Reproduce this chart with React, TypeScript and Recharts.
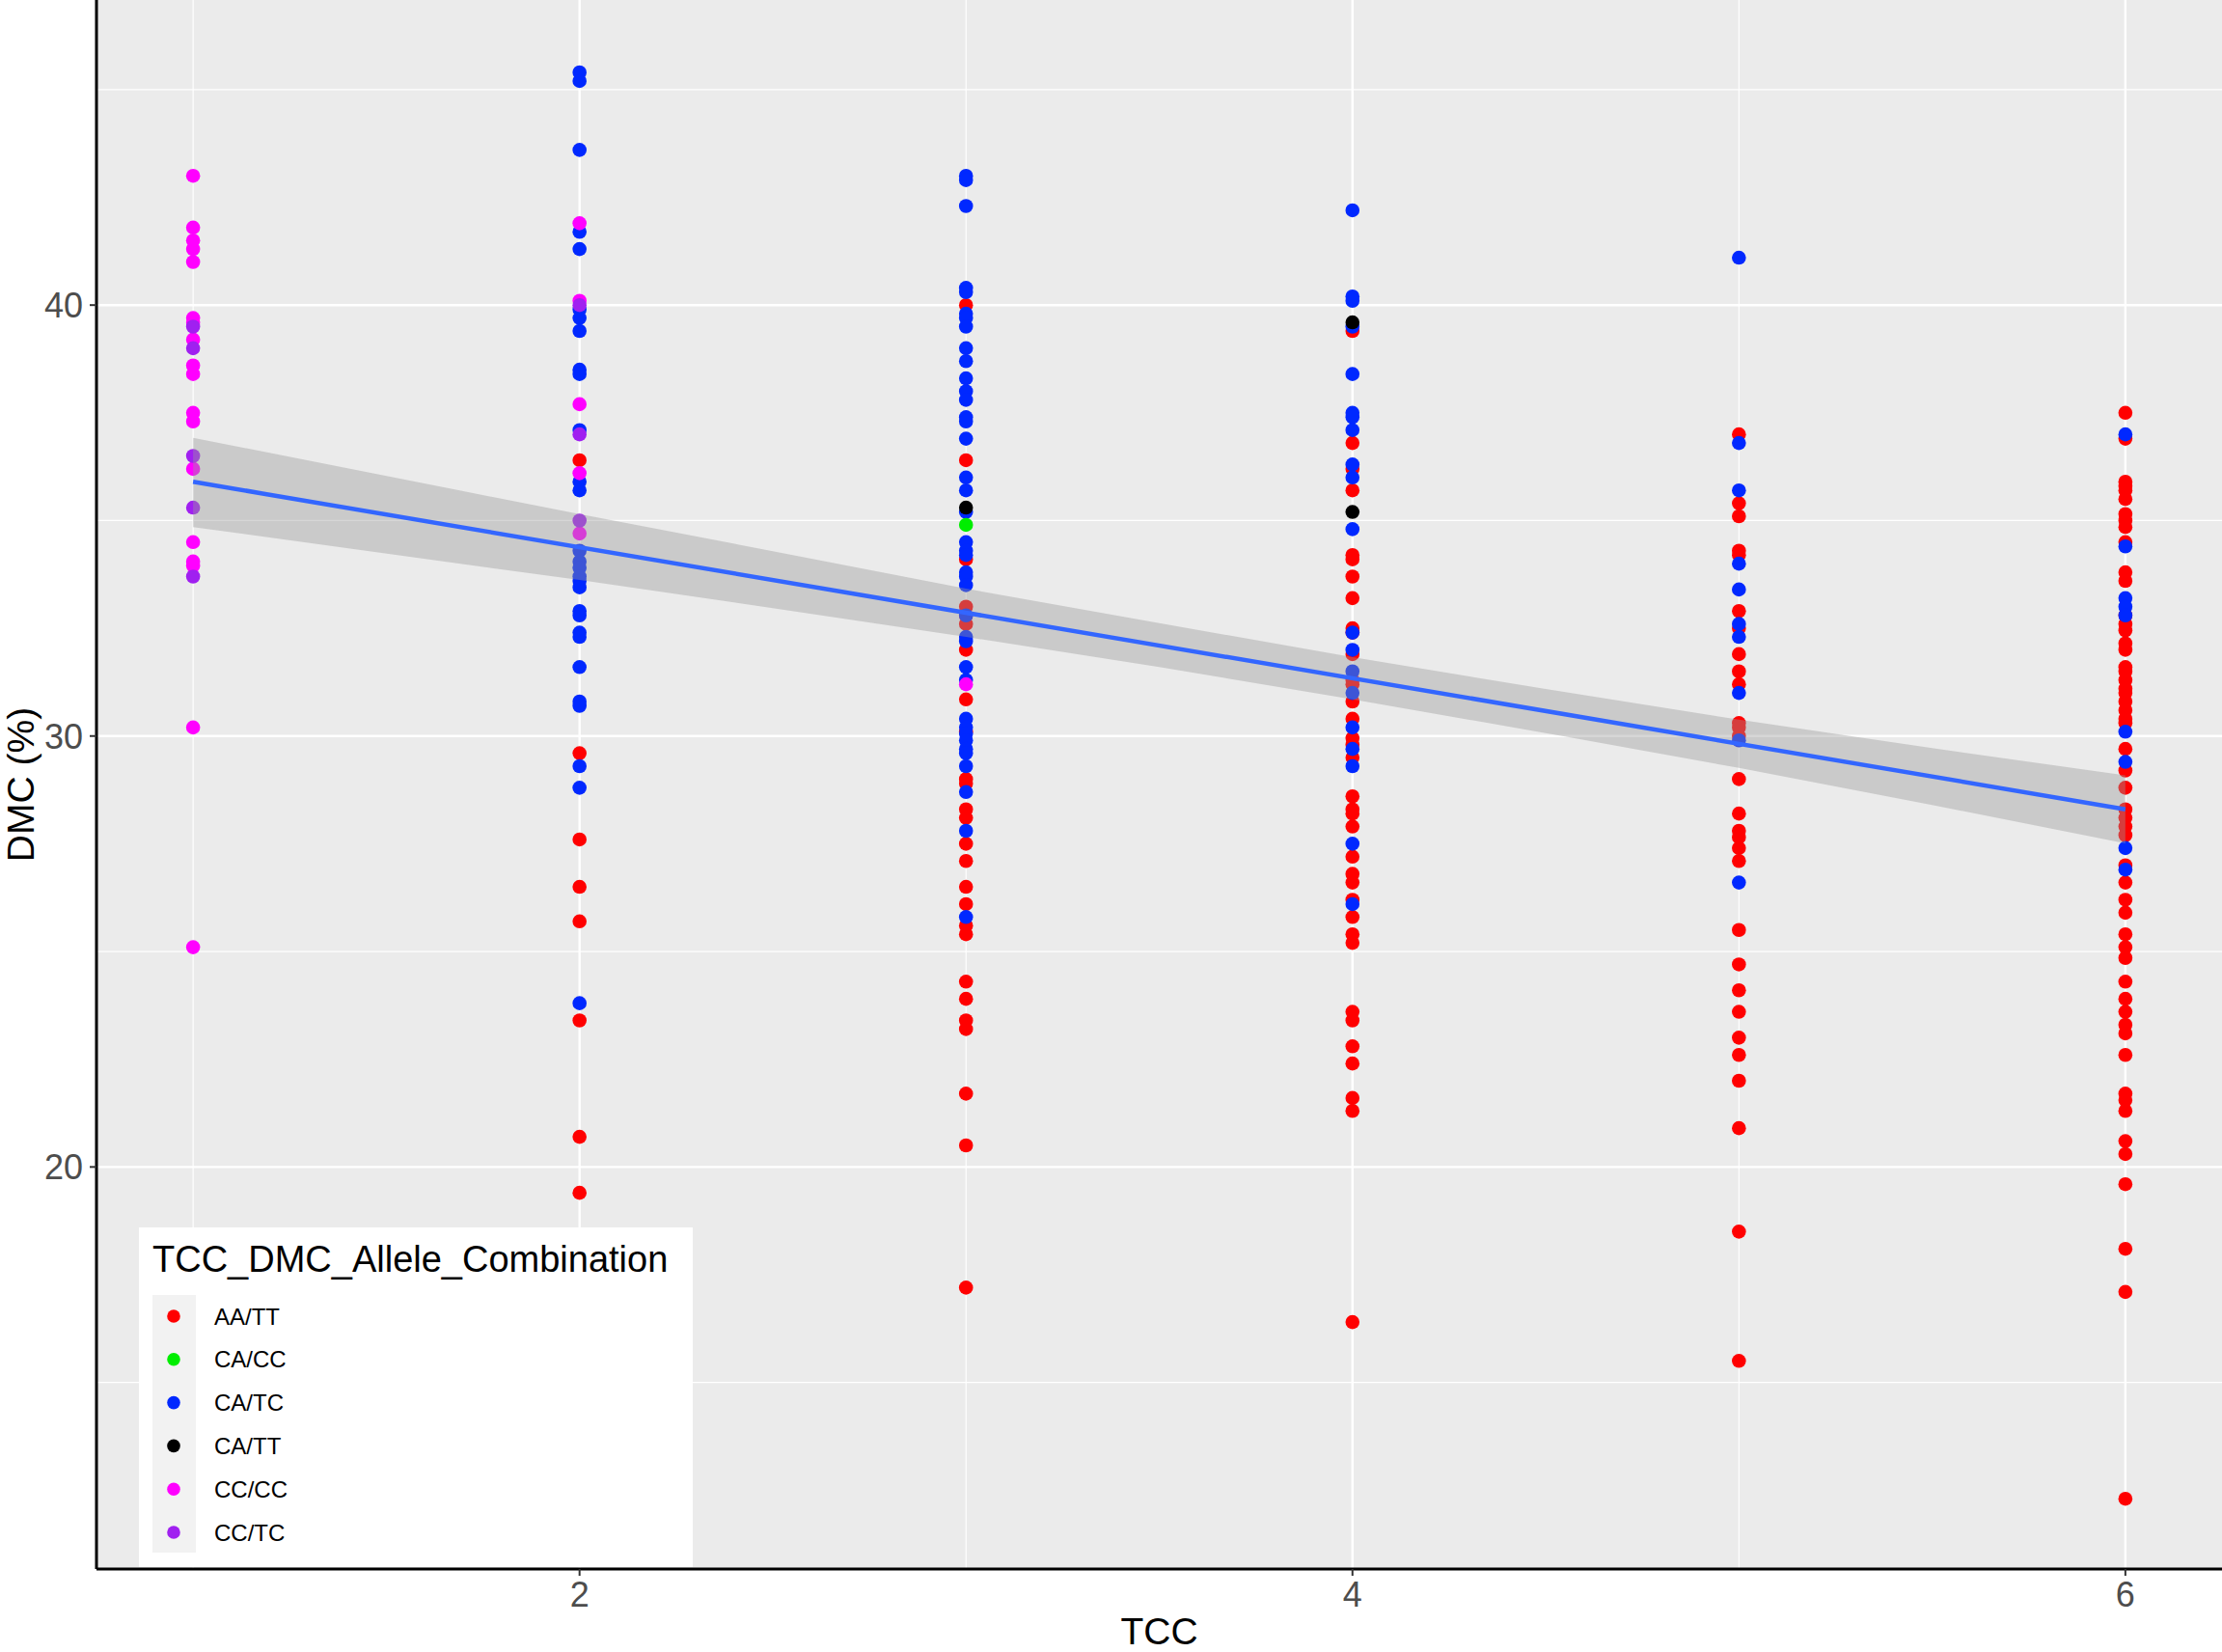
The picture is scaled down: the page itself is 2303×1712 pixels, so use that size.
import {
  Area,
  CartesianGrid,
  ComposedChart,
  Label,
  Legend,
  Line,
  Scatter,
  XAxis,
  YAxis
} from 'recharts';

const GENOTYPES = ['AA/TT', 'CA/CC', 'CA/TC', 'CA/TT', 'CC/CC', 'CC/TC'];
const GENOTYPE_COLORS = ['#ff0000', '#00ee00', '#0028ff', '#000000', '#ff00ff', '#a020f0'];
// red first, then blue, the rare genotypes on top
const DRAW_ORDER = [0, 2, 4, 5, 1, 3];

// DMC (%) per TCC score
const AA_TT: Record<number, number[]> = {
  2: [36.4, 29.6, 27.6, 26.5, 25.7, 23.4, 20.7, 19.4],
  3: [40.0, 36.4, 34.1, 33.0, 32.8, 32.6, 32.0, 30.85, 30.1, 29.0, 28.9, 28.3, 28.1, 27.5, 27.1,
    26.5, 26.1, 25.6, 25.4, 24.3, 23.9, 23.4, 23.2, 21.7, 20.5, 17.2],
  4: [39.4, 36.8, 36.2, 35.7, 34.2, 34.1, 33.7, 33.2, 32.5, 32.4, 31.9, 31.3, 31.2, 30.8, 30.4,
    29.95, 29.8, 29.5, 28.6, 28.3, 28.2, 27.9, 27.2, 26.8, 26.6, 26.2, 25.8, 25.4, 25.2, 23.6,
    23.4, 22.8, 22.4, 21.6, 21.3, 16.4],
  5: [37.0, 35.4, 35.1, 34.3, 34.2, 32.9, 32.5, 31.9, 31.5, 31.2, 30.3, 30.2, 30.0, 29.0, 28.2,
    27.8, 27.65, 27.4, 27.1, 25.5, 24.7, 24.1, 23.6, 23.0, 22.6, 22.0, 20.9, 18.5, 15.5],
  6: [37.5, 36.9, 35.9, 35.8, 35.7, 35.5, 35.15, 35.0, 34.85, 34.5, 33.8, 33.6, 32.8, 32.6, 32.45,
    32.15, 32.0, 31.6, 31.5, 31.3, 31.1, 31.0, 30.8, 30.6, 30.4, 30.3, 29.7, 29.2, 28.8, 28.3,
    28.1, 27.9, 27.7, 27.0, 26.6, 26.2, 25.9, 25.4, 25.1, 24.85, 24.3, 23.9, 23.6, 23.3, 23.1,
    22.6, 21.7, 21.55, 21.3, 20.6, 20.3, 19.6, 18.1, 17.1, 12.3]
};
const CA_CC: Record<number, number[]> = {
  3: [34.9]
};
const CA_TC: Record<number, number[]> = {
  2: [45.4, 45.2, 43.6, 41.7, 41.3, 39.9, 39.7, 39.4, 38.5, 38.4, 37.1, 35.9, 35.7, 34.3, 34.05,
    33.9, 33.7, 33.6, 33.45, 32.9, 32.8, 32.4, 32.3, 31.6, 30.8, 30.7, 29.3, 28.8, 23.8],
  3: [43.0, 42.9, 42.3, 40.4, 40.3, 39.8, 39.7, 39.5, 39.0, 38.7, 38.3, 38.0, 37.8, 37.4, 37.3,
    36.9, 36.0, 35.7, 35.2, 34.5, 34.3, 34.2, 33.8, 33.7, 33.5, 32.8, 32.3, 32.2, 31.6, 31.3,
    30.4, 30.2, 30.06, 29.9, 29.7, 29.6, 29.3, 28.7, 27.8, 25.8],
  4: [42.2, 40.2, 40.1, 39.5, 38.4, 37.5, 37.4, 37.1, 36.3, 36.0, 34.8, 32.4, 32.0, 31.5, 31.0,
    30.2, 29.7, 29.3, 27.5, 26.1],
  5: [41.1, 36.8, 35.7, 34.0, 33.4, 32.6, 32.3, 31.0, 29.9, 26.6],
  6: [37.0, 34.4, 33.2, 33.0, 32.8, 30.1, 29.4, 27.4, 26.9]
};
const CA_TT: Record<number, number[]> = {
  3: [35.3],
  4: [39.6, 35.2]
};
const CC_CC: Record<number, number[]> = {
  1: [43.0, 41.8, 41.5, 41.3, 41.0, 39.7, 39.6, 39.2, 38.6, 38.4, 37.5, 37.3, 36.2, 34.5, 34.05,
    33.95, 30.2, 25.1],
  2: [41.9, 40.1, 37.7, 36.1, 34.7],
  3: [31.2]
};
const CC_TC: Record<number, number[]> = {
  1: [39.5, 39.0, 36.5, 35.3, 33.7],
  2: [40.0, 37.0, 35.0]
};
const SERIES = [AA_TT, CA_CC, CA_TC, CA_TT, CC_CC, CC_TC];

// linear fit and its 95% band
const FIT_TCC = [1, 6];
const FIT_DMC = [35.9, 28.3];
const BAND_TCC = [1, 2, 2.5, 3, 3.5, 4, 4.5, 5, 5.5, 6];
const BAND_LOW = [34.85, 33.62, 32.97, 32.3, 31.6, 30.85, 30.07, 29.26, 28.4, 27.51];
const BAND_HIGH = [36.92, 35.15, 34.29, 33.42, 32.62, 31.83, 31.09, 30.38, 29.72, 29.09];

const X_MAJOR = [2, 4, 6];
const X_MINOR = [1, 3, 5];
const Y_MAJOR = [20, 30, 40];
const Y_MINOR = [15, 25, 35, 45];

const toPoints = (byTcc: Record<number, number[]>) =>
  Object.entries(byTcc).flatMap(([tcc, values]) =>
    values.map((dmc) => ({ tcc: Number(tcc), dmc }))
  );

const bandData = BAND_TCC.map((tcc, i) => ({ tcc, band: [BAND_LOW[i], BAND_HIGH[i]] }));
const fitData = FIT_TCC.map((tcc, i) => ({ tcc, dmc: FIT_DMC[i] }));

function GenotypeLegend() {
  return (
    <svg width={574} height={352} style={{ display: 'block' }}>
      <rect x={0} y={0} width={574} height={352} fill="#ffffff" />
      <text x={14} y={46} fontSize={38} fill="#000000">
        TCC_DMC_Allele_Combination
      </text>
      <rect x={14} y={70} width={45} height={267} fill="#f2f2f2" />
      {GENOTYPES.map((name, i) => (
        <g key={name}>
          <circle cx={36} cy={92 + i * 44.8} r={6.8} fill={GENOTYPE_COLORS[i]} />
          <text x={78} y={92 + i * 44.8 + 8.5} fontSize={24} fill="#000000">
            {name}
          </text>
        </g>
      ))}
    </svg>
  );
}

export default function App() {
  return (
    <div
      style={{
        position: 'absolute',
        left: 0,
        top: 0,
        width: 2303,
        height: 1712,
        background: '#ffffff',
        fontFamily: '"Liberation Sans", Arial, sans-serif'
      }}
    >
      <ComposedChart width={2303} height={1712} margin={{ top: 0, right: 0, left: 0, bottom: 0 }}>
        <CartesianGrid
          fill="#ebebeb"
          stroke="#ffffff"
          strokeWidth={1.2}
          horizontalValues={Y_MINOR}
          verticalValues={X_MINOR}
        />
        <CartesianGrid
          fill="none"
          stroke="#ffffff"
          strokeWidth={2.4}
          horizontalValues={Y_MAJOR}
          verticalValues={X_MAJOR}
        />
        <XAxis
          type="number"
          dataKey="tcc"
          domain={[0.75, 6.25]}
          allowDataOverflow
          ticks={X_MAJOR}
          interval={0}
          height={86}
          tickSize={7}
          tickMargin={6}
          axisLine={{ stroke: '#000000', strokeWidth: 3 }}
          tickLine={{ stroke: '#333333', strokeWidth: 2 }}
          tick={{ fill: '#4d4d4d', fontSize: 36 }}
        >
          <Label
            content={({ viewBox }: any) => (
              <text
                x={viewBox.x + viewBox.width / 2}
                y={viewBox.y + viewBox.height - 8}
                textAnchor="middle"
                fontSize={39}
                fill="#000000"
              >
                TCC
              </text>
            )}
          />
        </XAxis>
        <YAxis
          type="number"
          dataKey="dmc"
          domain={[10.67, 47.08]}
          allowDataOverflow
          ticks={Y_MAJOR}
          interval={0}
          width={100}
          tickSize={7}
          tickMargin={7}
          axisLine={{ stroke: '#000000', strokeWidth: 3 }}
          tickLine={{ stroke: '#333333', strokeWidth: 2 }}
          tick={{ fill: '#4d4d4d', fontSize: 36 }}
        >
          <Label
            content={({ viewBox }: any) => (
              <text
                transform={`translate(${viewBox.x + 21}, ${viewBox.y + viewBox.height / 2}) rotate(-90)`}
                textAnchor="middle"
                dominantBaseline="central"
                fontSize={39}
                fill="#000000"
              >
                DMC (%)
              </text>
            )}
          />
        </YAxis>
        {DRAW_ORDER.map((i) => (
          <Scatter
            key={GENOTYPES[i]}
            name={GENOTYPES[i]}
            data={toPoints(SERIES[i])}
            dataKey="dmc"
            fill={GENOTYPE_COLORS[i]}
            isAnimationActive={false}
            shape={(p: any) => <circle cx={p.cx} cy={p.cy} r={7.3} fill={GENOTYPE_COLORS[i]} />}
          />
        ))}
        <Area
          data={bandData}
          dataKey="band"
          type="linear"
          fill="#999999"
          fillOpacity={0.4}
          stroke="none"
          isAnimationActive={false}
          zIndex={700}
        />
        <Line
          data={fitData}
          dataKey="dmc"
          type="linear"
          stroke="#3366ff"
          strokeWidth={4.5}
          dot={false}
          activeDot={false}
          isAnimationActive={false}
          zIndex={800}
        />
        <Legend
          layout="vertical"
          align="center"
          verticalAlign="middle"
          wrapperStyle={{ left: 144, top: 1272, width: 574, height: 352 }}
          content={() => <GenotypeLegend />}
        />
      </ComposedChart>
    </div>
  );
}
